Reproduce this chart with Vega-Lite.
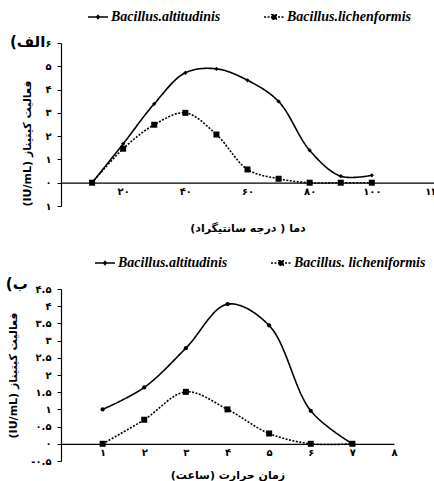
{
  "$schema": "https://vega.github.io/schema/vega-lite/v6.json",
  "padding": {"left": 5, "top": 6, "right": 0, "bottom": 0},
  "spacing": 18,
  "config": {
    "view": {"stroke": null},
    "axis": {"grid": false, "domainColor": "black", "tickColor": "black", "labelColor": "black", "titleColor": "black", "labelFont": "DejaVu Sans", "labelFontWeight": "bold", "labelFontSize": 10, "titleFont": "DejaVu Sans", "titleFontSize": 11, "titleFontWeight": "bold", "domainWidth": 1.2},
    "legend": {"labelFont": "Liberation Serif", "labelFontStyle": "italic", "labelFontWeight": "bold", "labelFontSize": 14, "labelColor": "black", "direction": "horizontal", "columnPadding": 40, "symbolSize": 400, "symbolStrokeColor": "black", "symbolFillColor": "black", "symbolStrokeWidth": 1.5, "labelOffset": 2},
    "title": {"font": "DejaVu Sans", "fontWeight": "bold", "fontSize": 15, "color": "black", "anchor": "start", "frame": "bounds"}
  },
  "resolve": {"scale": {"strokeDash": "independent"}, "legend": {"strokeDash": "independent"}},
  "vconcat": [
    {
      "title": {"text": "\u202bالف)\u202c", "dy": 48, "dx": -12},
      "width": 373,
      "height": 163,
      "data": {"values": [
        {"t": 10, "a": 0, "s": "Bacillus.altitudinis"},
        {"t": 20, "a": 1.67, "s": "Bacillus.altitudinis"},
        {"t": 30, "a": 3.39, "s": "Bacillus.altitudinis"},
        {"t": 40, "a": 4.72, "s": "Bacillus.altitudinis"},
        {"t": 50, "a": 4.89, "s": "Bacillus.altitudinis"},
        {"t": 60, "a": 4.4, "s": "Bacillus.altitudinis"},
        {"t": 70, "a": 3.49, "s": "Bacillus.altitudinis"},
        {"t": 80, "a": 1.39, "s": "Bacillus.altitudinis"},
        {"t": 90, "a": 0.28, "s": "Bacillus.altitudinis"},
        {"t": 100, "a": 0.32, "s": "Bacillus.altitudinis"},
        {"t": 10, "a": 0, "s": "Bacillus.lichenformis"},
        {"t": 20, "a": 1.46, "s": "Bacillus.lichenformis"},
        {"t": 30, "a": 2.49, "s": "Bacillus.lichenformis"},
        {"t": 40, "a": 3.0, "s": "Bacillus.lichenformis"},
        {"t": 50, "a": 2.07, "s": "Bacillus.lichenformis"},
        {"t": 60, "a": 0.57, "s": "Bacillus.lichenformis"},
        {"t": 70, "a": 0.17, "s": "Bacillus.lichenformis"},
        {"t": 80, "a": 0, "s": "Bacillus.lichenformis"},
        {"t": 90, "a": 0, "s": "Bacillus.lichenformis"},
        {"t": 100, "a": 0, "s": "Bacillus.lichenformis"}
      ]},
      "encoding": {
        "x": {"field": "t", "type": "quantitative", "scale": {"domain": [0, 120], "nice": false},
          "axis": {"values": [20, 40, 60, 80, 100, 120], "ticks": false, "offset": -23.3, "labelPadding": 4, "title": "\u202bدما ( درجه سانتیگراد)\u202c", "titlePadding": 26, "labelFlush": false,
            "labelExpr": "replace(replace(replace(replace(replace(replace(replace(replace(replace(replace(''+datum.value,regexp('0','g'),'۰'),regexp('1','g'),'۱'),regexp('2','g'),'۲'),regexp('3','g'),'۳'),regexp('4','g'),'۴'),regexp('5','g'),'۵'),regexp('6','g'),'۶'),regexp('7','g'),'۷'),regexp('8','g'),'۸'),regexp('9','g'),'۹')"}},
        "y": {"field": "a", "type": "quantitative", "scale": {"domain": [-1, 6], "nice": false},
          "axis": {"values": [-1, 0, 1, 2, 3, 4, 5, 6], "tickSize": 4, "labelPadding": 6, "title": "(IU/mL) فعالیت کیتیناز", "titleAnchor": "start", "titlePadding": 12,
            "labelExpr": "replace(replace(replace(replace(replace(replace(replace(replace(replace(replace(''+abs(datum.value),regexp('0','g'),'۰'),regexp('1','g'),'۱'),regexp('2','g'),'۲'),regexp('3','g'),'۳'),regexp('4','g'),'۴'),regexp('5','g'),'۵'),regexp('6','g'),'۶'),regexp('7','g'),'۷'),regexp('8','g'),'۸'),regexp('9','g'),'۹')"}}
      },
      "layer": [
        {"mark": {"type": "line", "interpolate": "catmull-rom", "color": "black", "strokeWidth": 1.6},
         "encoding": {"strokeDash": {"field": "s", "type": "nominal",
           "scale": {"domain": ["Bacillus.altitudinis", "Bacillus.lichenformis"], "range": [[1, 0], [2, 1.5]]},
           "legend": {"title": null, "orient": "none", "legendX": 26, "legendY": -37,
             "encode": {"symbols": {"update": {"shape": {"signal": "datum.value == 'Bacillus.altitudinis' ? 'M-1,0H1M-0.13,0L0,-0.15L0.13,0L0,0.15Z' : 'M-1,0H1M-0.22,-0.22H0.22V0.22H-0.22Z'"}, "fill": {"value": "black"}, "stroke": {"value": "black"}, "strokeWidth": {"value": 1.5}, "opacity": {"value": 1}}}}}}}},
        {"transform": [{"filter": "datum.s == 'Bacillus.altitudinis'"}],
         "mark": {"type": "point", "filled": true, "color": "black", "opacity": 1, "shape": "diamond", "size": 18}},
        {"transform": [{"filter": "datum.s != 'Bacillus.altitudinis'"}],
         "mark": {"type": "point", "filled": true, "color": "black", "opacity": 1, "shape": "square", "size": 36}}
      ]
    },
    {
      "title": {"text": "\u202bب)\u202c", "dy": 44, "dx": -2},
      "width": 333,
      "height": 172,
      "data": {"values": [
        {"t": 1, "a": 1.0, "s": "Bacillus.altitudinis"},
        {"t": 2, "a": 1.64, "s": "Bacillus.altitudinis"},
        {"t": 3, "a": 2.78, "s": "Bacillus.altitudinis"},
        {"t": 4, "a": 4.06, "s": "Bacillus.altitudinis"},
        {"t": 5, "a": 3.44, "s": "Bacillus.altitudinis"},
        {"t": 6, "a": 0.96, "s": "Bacillus.altitudinis"},
        {"t": 7, "a": 0, "s": "Bacillus.altitudinis"},
        {"t": 1, "a": 0, "s": "Bacillus. licheniformis"},
        {"t": 2, "a": 0.7, "s": "Bacillus. licheniformis"},
        {"t": 3, "a": 1.51, "s": "Bacillus. licheniformis"},
        {"t": 4, "a": 1.0, "s": "Bacillus. licheniformis"},
        {"t": 5, "a": 0.3, "s": "Bacillus. licheniformis"},
        {"t": 6, "a": 0, "s": "Bacillus. licheniformis"},
        {"t": 7, "a": 0, "s": "Bacillus. licheniformis"}
      ]},
      "encoding": {
        "x": {"field": "t", "type": "quantitative", "scale": {"domain": [0, 8], "nice": false},
          "axis": {"values": [1, 2, 3, 4, 5, 6, 7, 8], "ticks": false, "offset": -17.2, "labelPadding": 4, "title": "\u202bزمان حرارت (ساعت)\u202c", "titlePadding": 12, "labelFlush": false,
            "labelExpr": "replace(replace(replace(replace(replace(replace(replace(replace(replace(replace(''+datum.value,regexp('0','g'),'۰'),regexp('1','g'),'۱'),regexp('2','g'),'۲'),regexp('3','g'),'۳'),regexp('4','g'),'۴'),regexp('5','g'),'۵'),regexp('6','g'),'۶'),regexp('7','g'),'۷'),regexp('8','g'),'۸'),regexp('9','g'),'۹')"}},
        "y": {"field": "a", "type": "quantitative", "scale": {"domain": [-0.5, 4.5], "nice": false},
          "axis": {"values": [-0.5, 0, 0.5, 1, 1.5, 2, 2.5, 3, 3.5, 4, 4.5], "tickSize": 4, "labelPadding": 6, "title": "(IU/mL) فعالیت کیتیناز", "titlePadding": 12,
            "labelExpr": "replace(replace(replace(replace(replace(replace(replace(replace(replace(replace(''+datum.value,regexp('0','g'),'۰'),regexp('1','g'),'۱'),regexp('2','g'),'۲'),regexp('3','g'),'۳'),regexp('4','g'),'۴'),regexp('5','g'),'۵'),regexp('6','g'),'۶'),regexp('7','g'),'۷'),regexp('8','g'),'۸'),regexp('9','g'),'۹')"}}
      },
      "layer": [
        {"mark": {"type": "line", "interpolate": "catmull-rom", "color": "black", "strokeWidth": 1.6},
         "encoding": {"strokeDash": {"field": "s", "type": "nominal",
           "scale": {"domain": ["Bacillus.altitudinis", "Bacillus. licheniformis"], "range": [[1, 0], [2, 1.5]]},
           "legend": {"title": null, "orient": "none", "legendX": 33, "legendY": -37,
             "encode": {"symbols": {"update": {"shape": {"signal": "datum.value == 'Bacillus.altitudinis' ? 'M-1,0H1M-0.13,0L0,-0.15L0.13,0L0,0.15Z' : 'M-1,0H1M-0.22,-0.22H0.22V0.22H-0.22Z'"}, "fill": {"value": "black"}, "stroke": {"value": "black"}, "strokeWidth": {"value": 1.5}, "opacity": {"value": 1}}}}}}}},
        {"transform": [{"filter": "datum.s == 'Bacillus.altitudinis'"}],
         "mark": {"type": "point", "filled": true, "color": "black", "opacity": 1, "shape": "circle", "size": 18}},
        {"transform": [{"filter": "datum.s != 'Bacillus.altitudinis'"}],
         "mark": {"type": "point", "filled": true, "color": "black", "opacity": 1, "shape": "square", "size": 36}}
      ]
    }
  ]
}
